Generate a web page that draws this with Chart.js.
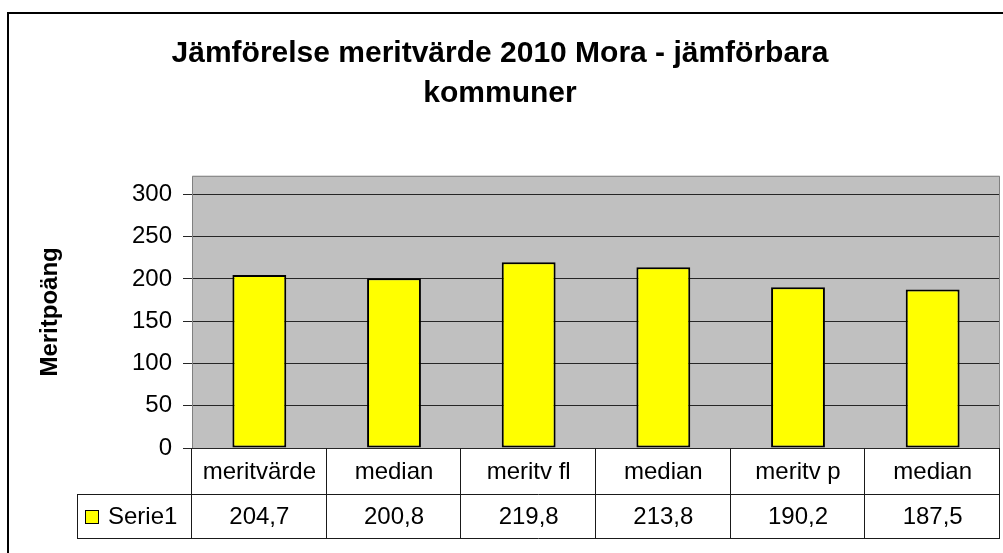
<!DOCTYPE html>
<html lang="sv">
<head>
<meta charset="utf-8">
<title>Jämförelse meritvärde 2010 Mora</title>
<script src="https://cdn.jsdelivr.net/npm/chart.js@4/dist/chart.umd.min.js"></script>
<style>
  html, body { margin: 0; padding: 0; background: #fff; }
  #diagram { display: block; }
</style>
</head>
<body>
<canvas id="diagram" width="1003" height="553"></canvas>
<script>
// Data
const kategorier = ['meritvärde', 'median', 'meritv fl', 'median', 'meritv p', 'median'];
const serie1 = [204.7, 200.8, 219.8, 213.8, 190.2, 187.5];
const serieNamn = 'Serie1';
const yTicks = [0, 50, 100, 150, 200, 250, 300];
const yMax = 322; // Excel lämnar luft ovanför 300

const typsnitt = 'Arial, "Liberation Sans", sans-serif';

function formatera(v) {
    return v.toFixed(1).replace('.', ',');
}

// Grå plotyta, ram och datatabell under diagrammet
const tabellPlugin = {
    id: 'tabell',
    beforeDraw(chart) {
        const { ctx, chartArea: a } = chart;
        ctx.save();
        ctx.fillStyle = '#c0c0c0';
        ctx.fillRect(a.left, a.top, a.right - a.left, a.bottom - a.top);
        ctx.restore();
    },
    afterDraw(chart) {
        const { ctx, chartArea: a } = chart;
        const x = chart.scales.x;
        const colW = (a.right - a.left) / kategorier.length;
        const rad1Top = Math.round(a.bottom);
        const rad1Bot = rad1Top + 46;
        const rad2Bot = rad1Bot + 44;
        const legendVanster = 77;

        ctx.save();
        // plotytans ram (grå)
        ctx.strokeStyle = '#808080';
        ctx.lineWidth = 1;
        ctx.beginPath();
        ctx.moveTo(a.left + 0.5, a.bottom);
        ctx.lineTo(a.left + 0.5, a.top + 0.5);
        ctx.lineTo(a.right - 0.5, a.top + 0.5);
        ctx.lineTo(a.right - 0.5, a.bottom);
        ctx.stroke();

        // tabellens linjer
        ctx.strokeStyle = '#1a1a1a';
        ctx.beginPath();
        ctx.moveTo(legendVanster, rad1Bot + 0.5);
        ctx.lineTo(a.right, rad1Bot + 0.5);
        ctx.moveTo(legendVanster, rad2Bot + 0.5);
        ctx.lineTo(a.right, rad2Bot + 0.5);
        ctx.moveTo(legendVanster + 0.5, rad1Bot);
        ctx.lineTo(legendVanster + 0.5, rad2Bot + 1);
        for (let i = 0; i <= kategorier.length; i++) {
            const xp = Math.round(a.left + i * colW) - 0.5;
            ctx.moveTo(xp, rad1Top);
            ctx.lineTo(xp, rad2Bot + 1);
        }
        ctx.stroke();

        // text i tabellen
        ctx.fillStyle = '#000';
        ctx.font = '24px ' + typsnitt;
        ctx.textAlign = 'center';
        ctx.textBaseline = 'middle';
        kategorier.forEach((k, i) => {
            const cx = x.getPixelForValue(i);
            ctx.fillText(k, cx, (rad1Top + rad1Bot) / 2 + 1);
            ctx.fillText(formatera(serie1[i]), cx, (rad1Bot + rad2Bot) / 2 + 1);
        });

        // förklaring
        const rutaY = (rad1Bot + rad2Bot) / 2 - 6;
        ctx.fillStyle = '#ffff00';
        ctx.fillRect(legendVanster + 8, rutaY, 14, 14);
        ctx.strokeStyle = '#000';
        ctx.strokeRect(legendVanster + 8.5, rutaY + 0.5, 13, 13);
        ctx.fillStyle = '#000';
        ctx.textAlign = 'left';
        ctx.fillText(serieNamn, legendVanster + 31, (rad1Bot + rad2Bot) / 2 + 1);

        // yttre ram
        ctx.strokeStyle = '#000';
        ctx.lineWidth = 2;
        ctx.beginPath();
        ctx.moveTo(8, chart.height);
        ctx.lineTo(8, 13);
        ctx.lineTo(chart.width, 13);
        ctx.stroke();
        ctx.restore();
    }
};

const ctx = document.getElementById('diagram').getContext('2d');
new Chart(ctx, {
    type: 'bar',
    data: {
        labels: kategorier,
        datasets: [{
            label: serieNamn,
            data: serie1,
            backgroundColor: '#ffff00',
            borderColor: '#000000',
            borderWidth: 2,
            borderSkipped: false,
            barPercentage: 0.4,
            categoryPercentage: 1.0
        }]
    },
    options: {
        responsive: false,
        animation: false,
        devicePixelRatio: 1,
        layout: {
            padding: { left: 0, top: 0, right: 3, bottom: 105 }
        },
        plugins: {
            legend: { display: false },
            tooltip: { enabled: false },
            title: {
                display: true,
                text: ['Jämförelse meritvärde 2010 Mora - jämförbara', 'kommuner'],
                color: '#000',
                font: { family: typsnitt, size: 30, weight: 'bold', lineHeight: 1.33 },
                padding: { top: 34, bottom: 62 }
            }
        },
        scales: {
            x: {
                display: false
            },
            y: {
                min: 0,
                max: yMax,
                afterBuildTicks(scale) {
                    scale.ticks = yTicks.map(v => ({ value: v }));
                },
                afterFit(scale) {
                    scale.width = 192;
                },
                border: { display: false },
                grid: {
                    color: '#262626',
                    lineWidth: 1,
                    tickLength: 9,
                    drawTicks: true
                },
                ticks: {
                    color: '#000',
                    padding: 11,
                    font: { family: typsnitt, size: 24 }
                },
                title: {
                    display: true,
                    text: 'Meritpoäng',
                    color: '#000',
                    font: { family: typsnitt, size: 24, weight: 'bold' },
                    padding: { top: 36, bottom: 0 }
                }
            }
        }
    },
    plugins: [tabellPlugin]
});
</script>
</body>
</html>
